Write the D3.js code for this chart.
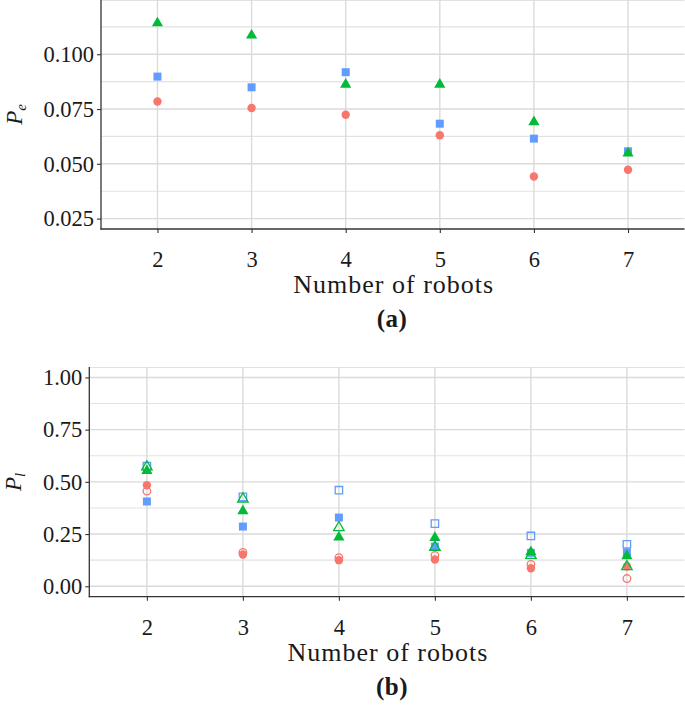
<!DOCTYPE html>
<html>
<head>
<meta charset="utf-8">
<script src="https://cdn.jsdelivr.net/npm/d3@7"></script>
<style>
  html, body { margin: 0; padding: 0; background: #fff; }
  svg { display: block; }
  text { font-family: "Liberation Serif", "DejaVu Serif", serif; fill: #1a1a1a; }
</style>
</head>
<body>
<svg id="chart" width="685" height="706"></svg>
<script>
// ---------- data ----------
const robots = [2, 3, 4, 5, 6, 7];

// Panel (a): P_e
const peTicks = [0.025, 0.050, 0.075, 0.100];
const peTickLabels = ["0.025", "0.050", "0.075", "0.100"];
const peCircle = [0.0784, 0.0755, 0.0724, 0.0630, 0.0442, 0.0473];
const peSquare = [0.0898, 0.0849, 0.0918, 0.0683, 0.0615, 0.0557];
const peTriangle = [0.1142, 0.1086, 0.0862, 0.0862, 0.0691, 0.0548];

// Panel (b): P_l
const plTicks = [0.00, 0.25, 0.50, 0.75, 1.00];
const plTickLabels = ["0.00", "0.25", "0.50", "0.75", "1.00"];
const plCircleFilled = [0.484, 0.152, 0.125, 0.128, 0.086, 0.095];
const plCircleOpen = [0.456, 0.162, 0.137, 0.148, 0.105, 0.037];
const plSquareFilled = [0.406, 0.286, 0.329, 0.190, 0.160, 0.161];
const plSquareOpen = [0.575, 0.428, 0.460, 0.300, 0.241, 0.201];
const plTriangleFilled = [0.553, 0.360, 0.235, 0.232, 0.164, 0.145];
const plTriangleOpen = [0.572, 0.418, 0.281, 0.187, 0.148, 0.094];

const RED = "#F8766D", BLUE = "#619CFF", GREEN = "#00BA38";

// ---------- drawing ----------
const svg = d3.select("#chart");

function markerPath(shape, open) {
  if (shape === "circle") {
    const r = open ? 3.8 : 4.2;
    return `M${-r},0A${r},${r} 0 1,0 ${r},0A${r},${r} 0 1,0 ${-r},0Z`;
  }
  if (shape === "square") {
    const h = open ? 3.7 : 4.0;
    return `M${-h},${-h}H${h}V${h}H${-h}Z`;
  }
  // equilateral triangle centred on its centroid
  const s = open ? 10.5 : 11.2;
  const r = s / Math.sqrt(3);
  return `M0,${-r}L${s / 2},${r / 2}L${-s / 2},${r / 2}Z`;
}

function drawPanel(cfg) {
  const g = svg.append("g");
  const x = d3.scaleLinear().domain([1.4, 7.6]).range([cfg.left, cfg.right]);
  const y = d3.scaleLinear().domain(cfg.yDomain).range([cfg.bottom, cfg.top]);

  // minor gridlines
  g.append("g").selectAll("line").data(cfg.minor).join("line")
    .attr("x1", cfg.left).attr("x2", cfg.right)
    .attr("y1", d => y(d)).attr("y2", d => y(d))
    .attr("stroke", "#e2e2e2").attr("stroke-width", 1.1);
  // top edge line
  g.append("line").attr("x1", cfg.left).attr("x2", cfg.right)
    .attr("y1", cfg.top + 0.5).attr("y2", cfg.top + 0.5)
    .attr("stroke", "#e2e2e2").attr("stroke-width", 1.1);
  // major gridlines
  g.append("g").selectAll("line").data(cfg.ticks).join("line")
    .attr("x1", cfg.left).attr("x2", cfg.right)
    .attr("y1", d => y(d)).attr("y2", d => y(d))
    .attr("stroke", "#dadada").attr("stroke-width", 1.4);
  g.append("g").selectAll("line").data(robots).join("line")
    .attr("x1", d => x(d)).attr("x2", d => x(d))
    .attr("y1", cfg.top).attr("y2", cfg.bottom)
    .attr("stroke", "#dadada").attr("stroke-width", 1.4);

  // points
  cfg.series.forEach(s => {
    g.append("g").selectAll("path").data(s.values).join("path")
      .attr("transform", (d, i) => `translate(${x(robots[i])},${y(d)})`)
      .attr("d", markerPath(s.shape, s.open))
      .attr("fill", s.open ? "none" : s.color)
      .attr("stroke", s.open ? s.color : "none")
      .attr("stroke-width", s.open ? 1.3 : 0);
  });

  // axes
  const yAxis = d3.axisLeft(y).tickValues(cfg.ticks)
    .tickFormat((d, i) => cfg.tickLabels[i]).tickSize(4).tickPadding(3);
  const ya = g.append("g").attr("transform", `translate(${cfg.left},0)`).call(yAxis);
  const xAxis = d3.axisBottom(x).tickValues(robots).tickFormat(d3.format("d"))
    .tickSize(4).tickPadding(18);
  const xa = g.append("g").attr("transform", `translate(0,${cfg.bottom})`).call(xAxis);
  [ya, xa].forEach(a => {
    a.select(".domain").remove();
    a.selectAll(".tick line").attr("stroke", "#333").attr("stroke-width", 1.1);
    a.selectAll("text").attr("font-size", 22.5).attr("fill", "#1a1a1a")
      .attr("font-family", "'Liberation Serif', serif");
  });
  // axis lines
  g.append("line").attr("x1", cfg.left).attr("x2", cfg.left)
    .attr("y1", cfg.top).attr("y2", cfg.bottom + 0.6)
    .attr("stroke", "#333").attr("stroke-width", 1.3);
  g.append("line").attr("x1", cfg.left - 0.6).attr("x2", cfg.right)
    .attr("y1", cfg.bottom).attr("y2", cfg.bottom)
    .attr("stroke", "#333").attr("stroke-width", 1.3);

  // y title
  const yt = g.append("text")
    .attr("transform", `translate(${cfg.yTitleX},${(cfg.top + cfg.bottom) / 2}) rotate(-90)`)
    .attr("text-anchor", "middle").attr("font-size", 23).attr("font-style", "italic");
  yt.append("tspan").text("P");
  yt.append("tspan").text(cfg.sub).attr("font-size", 15).attr("dy", 4);

  // x title
  g.append("text").attr("x", (cfg.left + cfg.right) / 2 + 1).attr("y", cfg.bottom + 64)
    .attr("text-anchor", "middle").attr("font-size", 26).attr("letter-spacing", 1)
    .text("Number of robots");
  // caption
  g.append("text").attr("x", 392).attr("y", cfg.bottom + 98)
    .attr("text-anchor", "middle").attr("font-size", 25).attr("font-weight", "bold")
    .attr("letter-spacing", 0.5)
    .text(cfg.caption);
}

drawPanel({
  left: 101, right: 684.5, top: 0, bottom: 229,
  yDomain: [0.02025, 0.12475],
  ticks: peTicks, tickLabels: peTickLabels,
  minor: [0.0375, 0.0625, 0.0875, 0.1125],
  sub: "e", yTitleX: 22, caption: "(a)",
  series: [
    { values: peCircle, shape: "circle", color: RED, open: false },
    { values: peSquare, shape: "square", color: BLUE, open: false },
    { values: peTriangle, shape: "triangle", color: GREEN, open: false }
  ]
});

drawPanel({
  left: 89.3, right: 684.5, top: 367, bottom: 596.7,
  yDomain: [-0.05, 1.05],
  ticks: plTicks, tickLabels: plTickLabels,
  minor: [0.125, 0.375, 0.625, 0.875],
  sub: "l", yTitleX: 21, caption: "(b)",
  series: [
    { values: plCircleFilled, shape: "circle", color: RED, open: false },
    { values: plCircleOpen, shape: "circle", color: RED, open: true },
    { values: plSquareFilled, shape: "square", color: BLUE, open: false },
    { values: plSquareOpen, shape: "square", color: BLUE, open: true },
    { values: plTriangleFilled, shape: "triangle", color: GREEN, open: false },
    { values: plTriangleOpen, shape: "triangle", color: GREEN, open: true }
  ]
});
</script>
</body>
</html>
